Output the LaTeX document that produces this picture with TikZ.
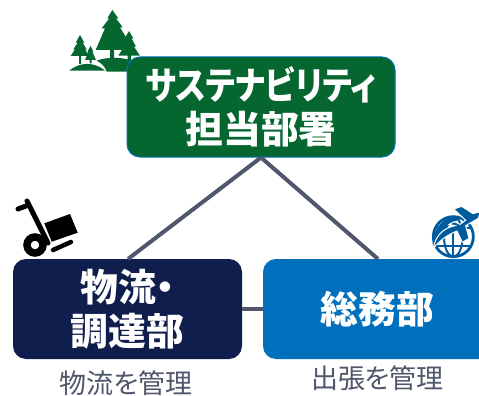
\documentclass[tikz,border=0pt]{standalone}
\usepackage{fontspec}
\newfontfamily\cjk[RawFeature=+palt]{Noto Sans CJK JP}
\definecolor{grn}{HTML}{05662F}
\definecolor{navy}{HTML}{0F1E4C}
\definecolor{blu}{HTML}{0070BC}
\definecolor{lin}{HTML}{50566B}
\definecolor{ico}{HTML}{005A9E}
\newcommand{\kata}[1]{\scalebox{0.85}[1]{#1}}
\tikzset{
 boxb/.style={rounded corners=13pt,inner sep=0,text=white,align=center,font=\cjk\bfseries\fontsize{37.8}{43.5}\selectfont},
 note/.style={font=\cjk\fontsize{27}{27}\selectfont,text=lin,inner sep=0},
 conn/.style={draw=lin,line width=4pt},
}
\begin{document}
\begin{tikzpicture}[x=1pt,y=-1pt]
\useasboundingbox (0,0) rectangle (479,396);
\clip (0,0) rectangle (479,396);
% trees
\begin{scope}[shift={(50,0)},scale=1/3]
\fill[grn] (187,30) -- (205,55) -- (198,55) -- (218,82) -- (210,82) -- (232,118) -- (225,150) -- (192,150) -- (192,178) -- (180,178) -- (180,150) -- (137,150) -- (165,85) -- (155,85) -- (178,55) -- (172,55) -- cycle;
\fill[grn] (237,93) -- (250,115) -- (245,115) -- (258,140) -- (252,140) -- (270,167) -- (243,167) -- (243,190) -- (233,190) -- (233,167) -- (205,167) -- (222,140) -- (217,140) -- (228,115) -- (224,115) -- cycle;
\fill[grn] (90,105) -- (103,128) -- (98,128) -- (110,148) -- (105,148) -- (118,168) -- (93,168) -- (93,192) -- (87,192) -- (87,168) -- (62,168) -- (75,148) -- (70,148) -- (83,128) -- (77,128) -- cycle;
\fill[grn] (122,138) -- (130,155) -- (127,155) -- (138,180) -- (125,180) -- (125,190) -- (119,190) -- (119,180) -- (105,180) -- (115,155) -- (112,155) -- cycle;
\fill[grn] (58,212) .. controls (85,188) and (130,182) .. (165,212) -- cycle;
\fill[grn] (140,182) .. controls (170,170) and (220,170) .. (260,186) -- (260,215) -- (170,215) .. controls (165,200) and (155,190) .. (140,182) -- cycle;
\end{scope}
% boxes
\node[fill=grn,draw=blu,line width=1pt,boxb,minimum width=268pt,minimum height=100pt] (csr) at (261,107) {\kata{サステナビリティ}\\担当部署};
\node[fill=navy,boxb,minimum width=229pt,minimum height=100pt] (proc) at (127.5,309) {物流・\\調達部};
\node[fill=blu,boxb,minimum width=260pt,minimum height=100pt] (ga) at (393,309) {};
\node[text=white,font=\cjk\bfseries\fontsize{37.8}{43.5}\selectfont,inner sep=0] (galabel) at (377.5,309) {総務部};
\coordinate (top) at (csr.south);
\coordinate (pl) at (128,259);
\coordinate (gl) at (378,259);
\draw[conn] (top) -- (pl);
\draw[conn] (top) -- (gl);
\draw[conn] (proc.east) -- (ga.west);
\node[note] (n1) at (126,383.5) {物流を管理};
\node[note] (n2) at (377.5,378) {出張を管理};
% hand truck
\draw[black,line width=5pt,line cap=round] (18,209) -- (26,206);
\draw[black,line width=5pt,line cap=round] (27,201) -- (48,243);
\draw[black,line width=7.5pt] (35,245) circle (8);
\fill[black] (44.3,223.3) -- (70,214) -- (77.7,232.7) -- (51.7,241.7) -- cycle;
\draw[black,line width=4.5pt,line cap=round] (53,250) -- (71,242);
% globe and plane
\begin{scope}[shift={(425,205)},scale=1/3]
\draw[ico,line width=2.8pt] (85,95) circle (60);
\draw[ico,line width=2pt] (85,95) ellipse (28 and 60);
\draw[ico,line width=2pt] (85,35) -- (85,155);
\draw[ico,line width=2pt] (35,68) -- (135,68);
\draw[ico,line width=2pt] (30,122) -- (140,122);
\fill[ico] (25,130) .. controls (15,90) and (45,42) .. (85,33) -- (100,45) .. controls (70,55) and (45,85) .. (25,130) -- cycle;
\fill[ico,draw=white,line width=1pt] (166,20) -- (160,40) -- (122,62) -- (132,100) -- (112,112) -- (96,78) .. controls (70,88) and (45,105) .. (25,130) .. controls (30,98) and (50,70) .. (90,62) -- (72,58) -- (88,50) -- (105,58) -- (122,46) -- (86,12) -- (110,4) -- (144,26) -- cycle;
\end{scope}
\end{tikzpicture}
\end{document}
